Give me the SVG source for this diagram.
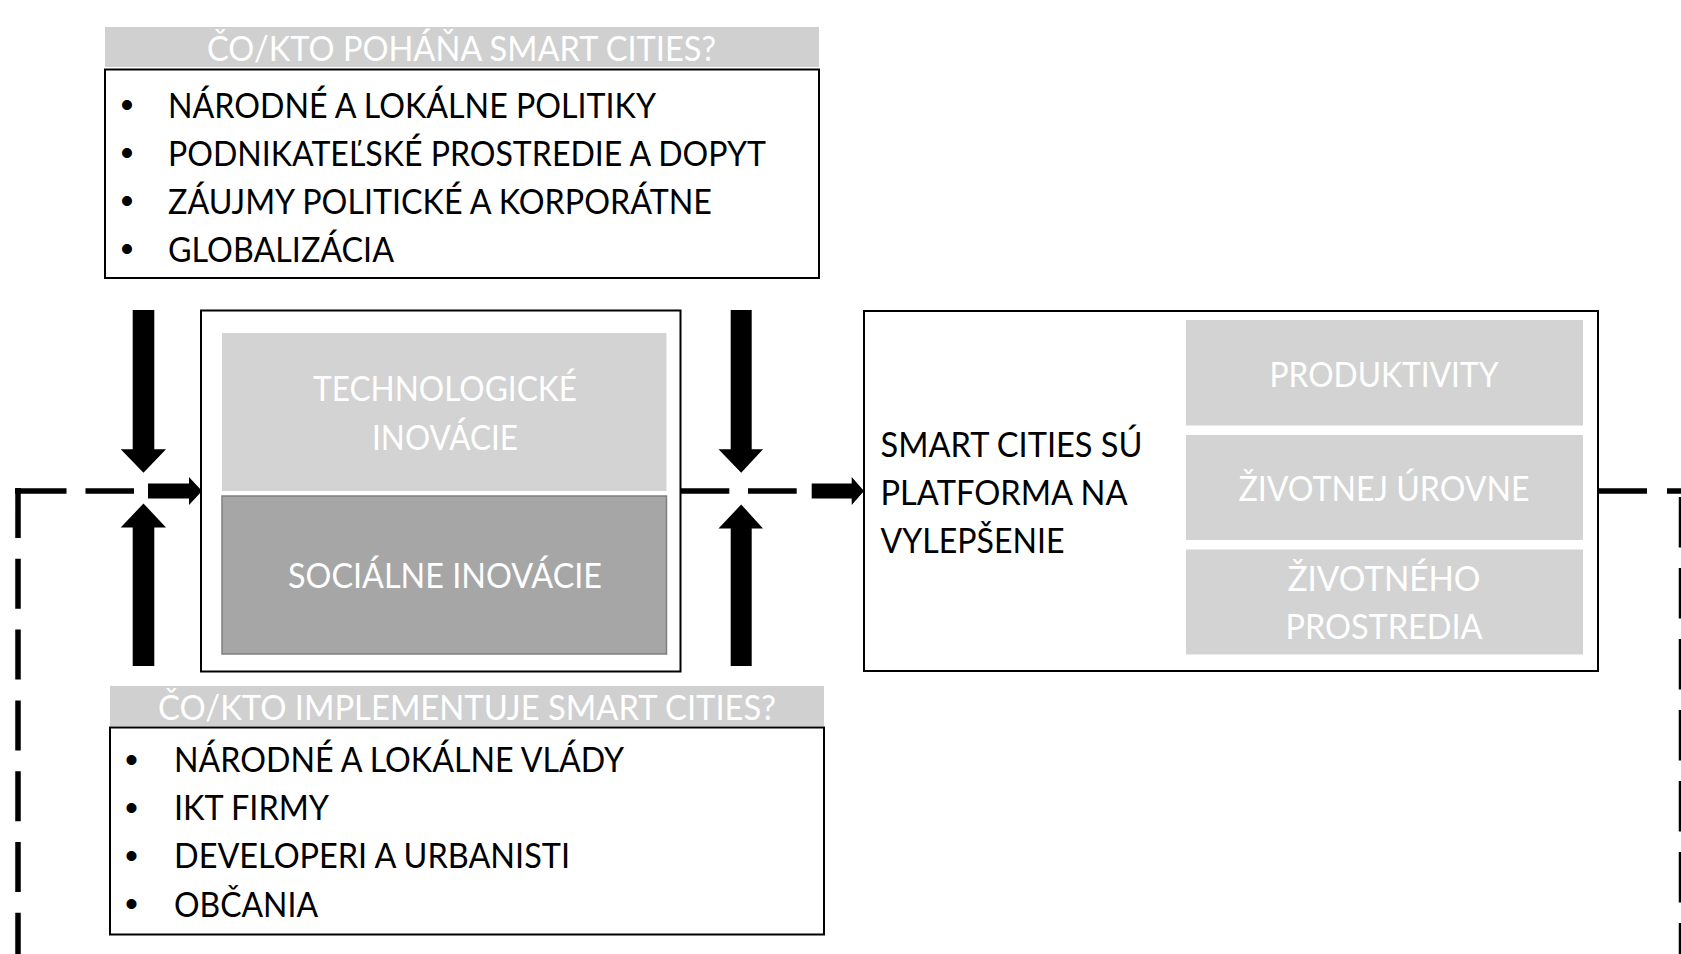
<svg xmlns="http://www.w3.org/2000/svg" width="1681" height="954" viewBox="0 0 1681 954">
  <style>
    .box { fill: #ffffff; stroke: #000000; stroke-width: 2; }
    .hdr { fill: #d0d0d0; }
    .light { fill: #d3d3d3; }
    .dark { fill: #a6a6a6; stroke: #7f7f7f; stroke-width: 1.5; }
    text { font-family: Lato, "Liberation Sans", sans-serif; font-size: 34px; }
    .w { fill: #ffffff; text-anchor: middle; }
    .b { fill: #000000; }
    .bul { font-family: "Liberation Sans", Arial, sans-serif; font-size: 37px; text-anchor: middle; fill: #000000; }
    .dash { fill: none; stroke: #000000; stroke-width: 5.5; }
    .blk { fill: #000000; stroke: none; }
  </style>
  <rect width="1681" height="954" fill="#ffffff"/>

  <g id="connectors">
    <!-- left feedback dashed line -->
    <path class="dash" d="M15 491H66.5M85.5 491H134"/>
    <path class="dash" d="M18 488V954" stroke-width="6" stroke-dasharray="50 20.8"/>
    <!-- middle dashed -->
    <path class="dash" d="M680.7 491H729.3M748 491H796.7"/>
    <!-- right dashed -->
    <path class="dash" d="M1599 491H1647M1667 491H1681"/>
    <path class="dash" d="M1681.5 497V954" stroke-dasharray="50.5 20.5"/>
    <!-- block arrows into boxes -->
    <path class="blk" d="M148 483.5H189V477L202 491L189 505V498.5H148Z"/>
    <path class="blk" d="M811.7 483.5H851.7V477L864 491L851.7 505V498.5H811.7Z"/>
    <!-- left vertical arrows -->
    <path class="blk" d="M132.7 310H154.3V449.3H166L143.5 472.7L120.7 449.3H132.7Z"/>
    <path class="blk" d="M132.7 666H154.3V527.5H166L143.5 503.5L120.7 527.5H132.7Z"/>
    <!-- right vertical arrows -->
    <path class="blk" d="M730.7 310H751.7V449.3H763L741.2 472.7L718.5 449.3H730.7Z"/>
    <path class="blk" d="M730.7 666H751.7V528.5H763L741.2 504.5L718.5 528.5H730.7Z"/>
  </g>

  <g id="drivers-header">
    <rect class="hdr" x="105" y="27" width="714" height="40"/>
    <text class="w" x="461.5" y="61" textLength="509" lengthAdjust="spacingAndGlyphs">ČO/KTO POHÁŇA SMART CITIES?</text>
  </g>

  <g id="drivers">
    <rect class="box" x="105" y="69.5" width="714" height="208.5"/>
    <text class="bul" x="127" y="117">•</text>
    <text class="bul" x="127" y="165">•</text>
    <text class="bul" x="127" y="213">•</text>
    <text class="bul" x="127" y="261">•</text>
    <text class="b" x="168" y="117.5" textLength="488" lengthAdjust="spacingAndGlyphs">NÁRODNÉ A LOKÁLNE POLITIKY</text>
    <text class="b" x="168" y="165.5" textLength="598" lengthAdjust="spacingAndGlyphs">PODNIKATEĽSKÉ PROSTREDIE A DOPYT</text>
    <text class="b" x="168" y="213.5" textLength="544" lengthAdjust="spacingAndGlyphs">ZÁUJMY POLITICKÉ A KORPORÁTNE</text>
    <text class="b" x="168" y="261.5" textLength="226" lengthAdjust="spacingAndGlyphs">GLOBALIZÁCIA</text>
  </g>

  <g id="innovations">
    <rect class="box" x="201" y="310.5" width="479.5" height="361"/>
    <rect class="light" x="222" y="333" width="444.5" height="158"/>
    <rect class="dark" x="222" y="496" width="444.5" height="158"/>
    <text class="w" x="445" y="400.5" textLength="264" lengthAdjust="spacingAndGlyphs">TECHNOLOGICKÉ</text>
    <text class="w" x="445" y="449.5" textLength="146" lengthAdjust="spacingAndGlyphs">INOVÁCIE</text>
    <text class="w" x="445" y="588" textLength="314" lengthAdjust="spacingAndGlyphs">SOCIÁLNE INOVÁCIE</text>
  </g>

  <g id="outcomes">
    <rect class="box" x="864" y="311" width="734" height="360"/>
    <text class="b" x="880.5" y="456.5" textLength="262" lengthAdjust="spacingAndGlyphs">SMART CITIES SÚ</text>
    <text class="b" x="880.5" y="504.5" textLength="247" lengthAdjust="spacingAndGlyphs">PLATFORMA NA</text>
    <text class="b" x="880.5" y="552.5" textLength="184" lengthAdjust="spacingAndGlyphs">VYLEPŠENIE</text>
    <rect class="light" x="1186" y="320" width="397" height="105.5"/>
    <rect class="light" x="1186" y="435" width="397" height="105"/>
    <rect class="light" x="1186" y="549.5" width="397" height="105"/>
    <text class="w" x="1384" y="387" textLength="229" lengthAdjust="spacingAndGlyphs">PRODUKTIVITY</text>
    <text class="w" x="1384" y="500.5" textLength="291" lengthAdjust="spacingAndGlyphs">ŽIVOTNEJ ÚROVNE</text>
    <text class="w" x="1384" y="590.5" textLength="193" lengthAdjust="spacingAndGlyphs">ŽIVOTNÉHO</text>
    <text class="w" x="1384" y="639" textLength="197" lengthAdjust="spacingAndGlyphs">PROSTREDIA</text>
  </g>

  <g id="implementers-header">
    <rect class="hdr" x="110" y="686" width="714" height="40"/>
    <text class="w" x="467" y="720" textLength="618" lengthAdjust="spacingAndGlyphs">ČO/KTO IMPLEMENTUJE SMART CITIES?</text>
  </g>

  <g id="implementers">
    <rect class="box" x="110" y="727.5" width="714" height="207"/>
    <text class="bul" x="131.5" y="771.5">•</text>
    <text class="bul" x="131.5" y="819.5">•</text>
    <text class="bul" x="131.5" y="867.5">•</text>
    <text class="bul" x="131.5" y="916">•</text>
    <text class="b" x="174" y="772" textLength="450" lengthAdjust="spacingAndGlyphs">NÁRODNÉ A LOKÁLNE VLÁDY</text>
    <text class="b" x="174" y="820" textLength="155" lengthAdjust="spacingAndGlyphs">IKT FIRMY</text>
    <text class="b" x="174" y="868" textLength="396" lengthAdjust="spacingAndGlyphs">DEVELOPERI A URBANISTI</text>
    <text class="b" x="174" y="916.5" textLength="144" lengthAdjust="spacingAndGlyphs">OBČANIA</text>
  </g>
</svg>
